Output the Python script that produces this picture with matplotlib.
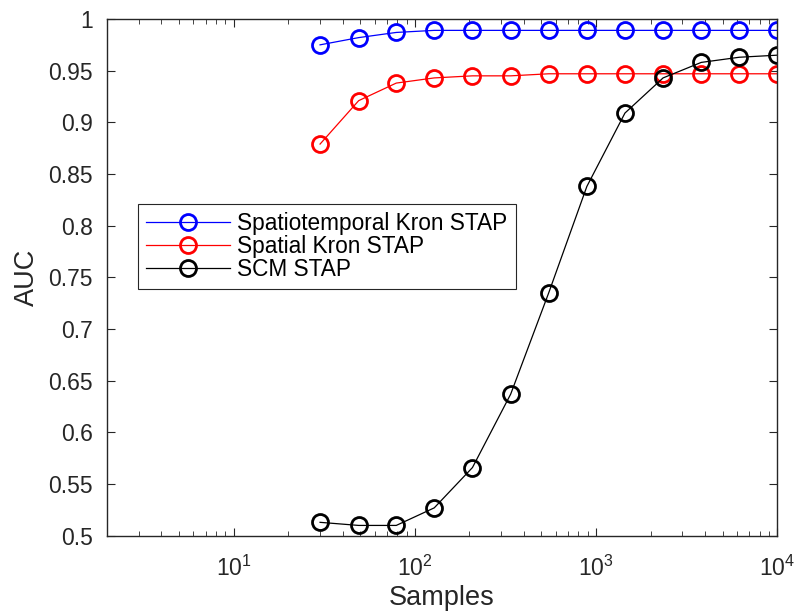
import numpy as np
import matplotlib
matplotlib.use('Agg')
import matplotlib.pyplot as plt
from matplotlib.ticker import FixedLocator, LogLocator, NullFormatter

matplotlib.rcParams.update({'font.family': 'Liberation Sans'})
matplotlib.rcParams.update({'mathtext.fontset': 'custom', 'mathtext.rm': 'Liberation Sans',
	'mathtext.it': 'Liberation Sans:italic', 'mathtext.bf': 'Liberation Sans:bold'})

samples = [30, 49, 79, 128, 208, 338, 548, 890, 1444, 2344, 3805, 6175, 10000]
auc_st_kron = [0.975, 0.982, 0.987, 0.989, 0.989, 0.989, 0.989, 0.989, 0.989, 0.989, 0.989, 0.989, 0.989]
auc_sp_kron = [0.879, 0.921, 0.938, 0.943, 0.945, 0.945, 0.947, 0.947, 0.947, 0.947, 0.947, 0.947, 0.947]
auc_scm = [0.513, 0.510, 0.510, 0.527, 0.566, 0.637, 0.735, 0.838, 0.909, 0.943, 0.958, 0.963, 0.965]

labels = ['Spatiotemporal Kron STAP', 'Spatial Kron STAP', 'SCM STAP']
colors = ['b', 'r', 'k']
xticks = [10, 100, 1000, 10000]
xtick_labels = ['$10^{1}$', '$10^{2}$', '$10^{3}$', '$10^{4}$']
yticks = [0.5, 0.55, 0.6, 0.65, 0.7, 0.75, 0.8, 0.85, 0.9, 0.95, 1.0]
ytick_labels = ['0.5', '0.55', '0.6', '0.65', '0.7', '0.75', '0.8', '0.85', '0.9', '0.95', '1']

fig = plt.figure(figsize=(7.98, 6.13), dpi=100)
ax = fig.add_axes([0.134, 0.126, 0.840, 0.843])

for data, lab, c in zip([auc_st_kron, auc_sp_kron, auc_scm], labels, colors):
	ax.plot(samples, data, color=c, linewidth=0.9, marker='o', markersize=11.5,
		markerfacecolor='none', markeredgewidth=2, label=lab)

ax.set_xscale('log')
ax.set_xlim(2, 1e4)
ax.set_ylim(0.5, 1)
ax.xaxis.set_major_locator(FixedLocator(xticks))
ax.set_xticklabels(xtick_labels)
ax.xaxis.set_minor_locator(LogLocator(base=10, subs=np.arange(2, 10)))
ax.xaxis.set_minor_formatter(NullFormatter())
ax.set_yticks(yticks)
ax.set_yticklabels(ytick_labels)

edge = '#262626'
for s in ax.spines.values():
	s.set_color(edge)
	s.set_linewidth(1.0)
ax.tick_params(which='both', direction='in', top=True, right=True, colors=edge, labelcolor=edge)
ax.tick_params(which='major', length=6, labelsize=16.5)
ax.tick_params(axis='y', which='major', pad=10)
ax.tick_params(axis='x', which='major', pad=14)
ax.tick_params(which='minor', length=3.5)

ax.set_xlabel('Samples', fontsize=19.5, color=edge, labelpad=3)
ax.set_ylabel('AUC', fontsize=19.5, color=edge, labelpad=6)

leg = ax.legend(loc='upper left', bbox_to_anchor=(0.046, 0.642), borderaxespad=0, fontsize=16.3,
	frameon=True, fancybox=False, edgecolor=edge, framealpha=1,
	handlelength=3.7, handletextpad=0.33, borderpad=0.36, labelspacing=0.0)
leg.get_frame().set_linewidth(0.8)

fig.savefig('out.png', dpi=100)
